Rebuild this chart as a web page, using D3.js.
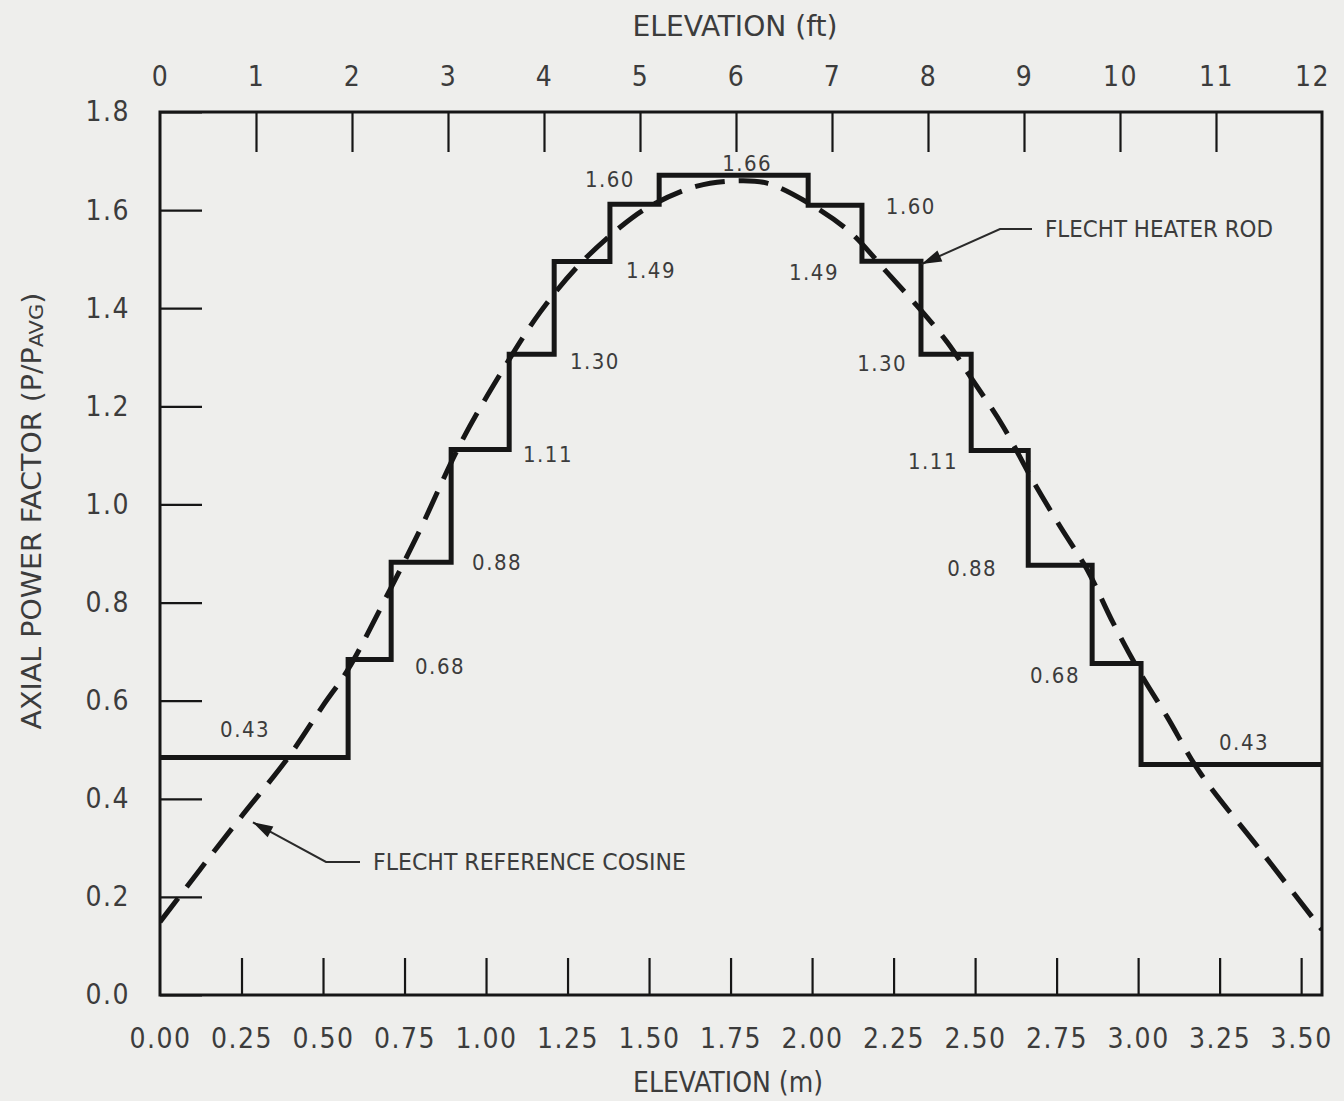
<!DOCTYPE html>
<html>
<head>
<meta charset="utf-8">
<script src="https://cdn.jsdelivr.net/npm/d3@7/dist/d3.min.js"></script>
<style>
  html, body { margin: 0; padding: 0; background: #eeeeec; }
  svg { display: block; }
  text { font-family: "DejaVu Sans Condensed", "DejaVu Sans", sans-serif; font-stretch: condensed; fill: #3c3c3c; }
</style>
</head>
<body>
<div id="chart"></div>
<script>
// elevation of the step edges (m) and the heater rod power factor of each step
var stepEdges = [0, 0.577, 0.709, 0.893, 1.071, 1.209, 1.380, 1.531, 1.988, 2.153, 2.334, 2.488, 2.663, 2.859, 3.009, 3.564];
var stepValues = [0.484, 0.684, 0.882, 1.112, 1.306, 1.495, 1.612, 1.671, 1.610, 1.496, 1.306, 1.110, 0.876, 0.676, 0.470];
var stepLabels = ["0.43", "0.68", "0.88", "1.11", "1.30", "1.49", "1.60", "1.66", "1.60", "1.49", "1.30", "1.11", "0.88", "0.68", "0.43"];
// where each step label sits (m, power factor)
var labelAtM = [0.261, 0.859, 1.034, 1.190, 1.334, 1.506, 1.380, 1.801, 2.303, 2.006, 2.215, 2.371, 2.491, 2.745, 3.325];
var labelAtP = [0.541, 0.669, 0.882, 1.101, 1.292, 1.477, 1.663, 1.695, 1.608, 1.472, 1.288, 1.088, 0.870, 0.652, 0.515];

// reference cosine
var cosM = [0, 0.123, 0.245, 0.393, 0.500, 0.577, 0.706, 0.798, 0.920, 1.043, 1.166, 1.288, 1.411, 1.503, 1.647, 1.779, 1.862, 1.985, 2.117, 2.230, 2.331, 2.414, 2.491, 2.586, 2.675, 2.761, 2.844, 2.923, 3.006, 3.089, 3.190, 3.374, 3.564];
var cosP = [0.149, 0.256, 0.360, 0.484, 0.590, 0.664, 0.827, 0.949, 1.122, 1.265, 1.392, 1.490, 1.565, 1.608, 1.649, 1.660, 1.655, 1.616, 1.555, 1.473, 1.398, 1.331, 1.255, 1.159, 1.051, 0.955, 0.867, 0.759, 0.657, 0.567, 0.453, 0.296, 0.133];

var mTicks = [0, 0.25, 0.5, 0.75, 1, 1.25, 1.5, 1.75, 2, 2.25, 2.5, 2.75, 3, 3.25, 3.5];
var ftTicks = [0, 1, 2, 3, 4, 5, 6, 7, 8, 9, 10, 11, 12];
var pTicks = [0, 0.2, 0.4, 0.6, 0.8, 1.0, 1.2, 1.4, 1.6, 1.8];

var W = 1344, H = 1101;
var L = 160, R = 1322, T = 112, B = 995;
var ink = "#161616";

var x = d3.scaleLinear().domain([0, 3.564]).range([L, R]);
var xFt = d3.scaleLinear().domain([0, 12]).range([L, 1312]);
var y = d3.scaleLinear().domain([0, 1.8]).range([B, T]);

var svg = d3.select("#chart").append("svg").attr("width", W).attr("height", H);
svg.append("rect").attr("width", W).attr("height", H).attr("fill", "#eeeeec");

svg.append("defs").append("clipPath").attr("id", "plot")
  .append("rect").attr("x", L).attr("y", T).attr("width", R - L).attr("height", B - T);

// axes, ticks pointing inward
var bottomAxis = svg.append("g").attr("transform", "translate(0," + B + ")")
  .call(d3.axisBottom(x).tickValues(mTicks).tickSize(-37).tickPadding(33).tickFormat(d3.format(".2f")));
var topAxis = svg.append("g").attr("transform", "translate(0," + T + ")")
  .call(d3.axisTop(xFt).tickValues(ftTicks).tickSize(-40).tickPadding(26).tickFormat(d3.format("d")));
var leftAxis = svg.append("g").attr("transform", "translate(" + L + ",0)")
  .call(d3.axisLeft(y).tickValues(pTicks).tickSize(-42).tickPadding(30).tickFormat(d3.format(".1f")));

[bottomAxis, topAxis, leftAxis].forEach(function(g) {
  g.select(".domain").remove();
  g.selectAll(".tick line").attr("stroke", ink).attr("stroke-width", 2.2);
  g.selectAll(".tick text").attr("fill", "#3c3c3c").style("font-size", "28px").style("letter-spacing", "1.5px");
});
topAxis.selectAll(".tick").filter(function(d) { return d === 0 || d === 12; }).select("line").remove();
bottomAxis.selectAll(".tick").filter(function(d) { return d === 0; }).select("line").remove();

// frame
svg.append("rect").attr("x", L).attr("y", T).attr("width", R - L).attr("height", B - T)
  .attr("fill", "none").attr("stroke", ink).attr("stroke-width", 3);

// heater rod step profile
var stepPts = stepEdges.map(function(e, i) { return [e, stepValues[Math.min(i, stepValues.length - 1)]]; });
svg.append("path")
  .attr("clip-path", "url(#plot)")
  .attr("d", d3.line().x(function(d) { return x(d[0]); }).y(function(d) { return y(d[1]); }).curve(d3.curveStepAfter)(stepPts))
  .attr("fill", "none").attr("stroke", ink).attr("stroke-width", 5).attr("stroke-linejoin", "miter");

// reference cosine, dashed
var cosPts = cosM.map(function(m, i) { return [m, cosP[i]]; });
svg.append("path")
  .attr("clip-path", "url(#plot)")
  .attr("d", d3.line().x(function(d) { return x(d[0]); }).y(function(d) { return y(d[1]); }).curve(d3.curveCatmullRom)(cosPts))
  .attr("fill", "none").attr("stroke", ink).attr("stroke-width", 5).attr("stroke-dasharray", "30,14");

// step values
svg.selectAll(".steplab").data(stepLabels).enter().append("text")
  .attr("class", "steplab")
  .attr("x", function(d, i) { return x(labelAtM[i]); })
  .attr("y", function(d, i) { return y(labelAtP[i]); })
  .attr("text-anchor", "middle").attr("dominant-baseline", "central")
  .style("font-size", "22px").style("letter-spacing", "1.5px").attr("fill", "#4a4a4a")
  .text(function(d) { return d; });

// callouts
function callout(tipM, tipP, elbowX, elbowY, endX, label, textLen) {
  var tx = x(tipM), ty = y(tipP);
  svg.append("path").attr("d", "M" + endX + "," + elbowY + "L" + elbowX + "," + elbowY + "L" + tx + "," + ty)
    .attr("fill", "none").attr("stroke", "#2a2a2a").attr("stroke-width", 2);
  var ang = Math.atan2(ty - elbowY, tx - elbowX);
  var len = 20, wid = 6;
  var bx = tx - len * Math.cos(ang), by = ty - len * Math.sin(ang);
  var px = -Math.sin(ang) * wid, py = Math.cos(ang) * wid;
  svg.append("path")
    .attr("d", "M" + tx + "," + ty + "L" + (bx + px) + "," + (by + py) + "L" + (bx - px) + "," + (by - py) + "Z")
    .attr("fill", "#1a1a1a");
  svg.append("text").attr("x", endX + 13).attr("y", elbowY).attr("dominant-baseline", "central")
    .attr("textLength", textLen).attr("lengthAdjust", "spacingAndGlyphs")
    .style("font-size", "23px").attr("fill", "#3a3a3a").text(label);
}
callout(2.336, 1.490, 1000, 229, 1032, "FLECHT HEATER ROD", 228);
callout(0.285, 0.352, 326, 862, 360, "FLECHT REFERENCE COSINE", 313);

// axis titles
svg.append("text").attr("x", 735).attr("y", 26).attr("text-anchor", "middle").attr("dominant-baseline", "central")
  .attr("textLength", 205).attr("lengthAdjust", "spacingAndGlyphs")
  .style("font-size", "28px").text("ELEVATION (ft)");
svg.append("text").attr("x", 728).attr("y", 1082).attr("text-anchor", "middle").attr("dominant-baseline", "central")
  .attr("textLength", 190).attr("lengthAdjust", "spacingAndGlyphs")
  .style("font-size", "28px").text("ELEVATION (m)");

var yt = svg.append("text").attr("transform", "translate(31,511) rotate(-90)")
  .attr("text-anchor", "middle").attr("dominant-baseline", "central")
  .attr("textLength", 437).attr("lengthAdjust", "spacingAndGlyphs")
  .style("font-size", "27px");
yt.append("tspan").text("AXIAL POWER FACTOR (P/P");
yt.append("tspan").attr("baseline-shift", "-25%").style("font-size", "20px").text("AVG");
yt.append("tspan").text(")");
</script>
</body>
</html>
